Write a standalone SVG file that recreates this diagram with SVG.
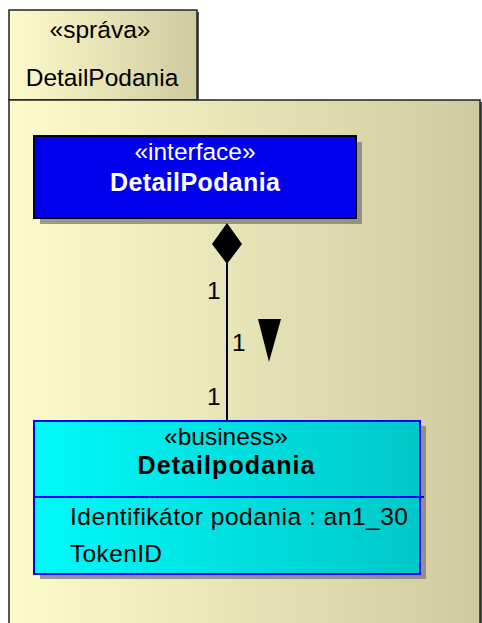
<svg xmlns="http://www.w3.org/2000/svg" width="482" height="623" viewBox="0 0 482 623">
<defs>
<linearGradient id="pkg" x1="0" y1="0" x2="1" y2="0">
<stop offset="0" stop-color="#FDFBCB"/>
<stop offset="1" stop-color="#CFCBA0"/>
</linearGradient>
<linearGradient id="cyan" x1="0" y1="0" x2="1" y2="0">
<stop offset="0" stop-color="#00FAFA"/>
<stop offset="1" stop-color="#00C8C8"/>
</linearGradient>
<style>
text{font-family:"Liberation Sans",Arial,sans-serif;font-size:24.5px;}
.b{font-weight:bold;font-size:25px;}
.c{text-anchor:middle;}
.w{fill:#FFFFFF;}
.k{fill:#000000;}
.sh{fill:#808080;opacity:0.8;}
.psh{fill:#555;}
</style>
</defs>
<rect x="0" y="0" width="482" height="623" fill="#FFFFFF"/>
<g id="package">
<rect x="11" y="12" width="188" height="90" class="psh"/>
<rect x="9" y="10" width="188" height="90" fill="url(#pkg)" stroke="#222" stroke-width="1.5"/>
<rect x="11" y="102" width="471" height="523" class="psh"/>
<rect x="9" y="100" width="471" height="530" fill="url(#pkg)" stroke="#222" stroke-width="1.5"/>
<text x="100" y="38" class="c k">«správa»</text>
<text x="102" y="86" class="c k">DetailPodania</text>
</g>
<g id="interface-DetailPodania">
<rect x="40" y="142" width="322" height="82" class="sh"/>
<rect x="34" y="136" width="322" height="82" fill="#0000EE" stroke="#000" stroke-width="2"/>
<text x="195" y="160" class="c w">«interface»</text>
<text x="195" y="191" class="c w b" textLength="170" lengthAdjust="spacing">DetailPodania</text>
</g>
<g id="business-Detailpodania">
<rect x="40" y="426" width="386" height="153" class="sh"/>
<rect x="34" y="421" width="386" height="153" fill="url(#cyan)" stroke="#0000FF" stroke-width="2"/>
<line x1="34" y1="497" x2="424" y2="497" stroke="#0000FF" stroke-width="2"/>
<text x="226" y="445" class="c k">«business»</text>
<text x="226" y="474" class="c k b" textLength="177" lengthAdjust="spacing">Detailpodania</text>
<text x="70" y="525" class="k" textLength="338" lengthAdjust="spacing">Identifikátor podania : an1_30</text>
<text x="70" y="562" class="k" textLength="92" lengthAdjust="spacing">TokenID</text>
</g>
<g id="connectors">
<line x1="227" y1="260" x2="227" y2="421" stroke="#000" stroke-width="2"/>
<polygon points="227,223 242,244 227,264 212,244" fill="#000"/>
<polygon points="258,319 281,319 269,362" fill="#000"/>
<text x="207" y="299" class="k">1</text>
<text x="232" y="351" class="k">1</text>
<text x="207" y="405" class="k">1</text>
</g>
</svg>
